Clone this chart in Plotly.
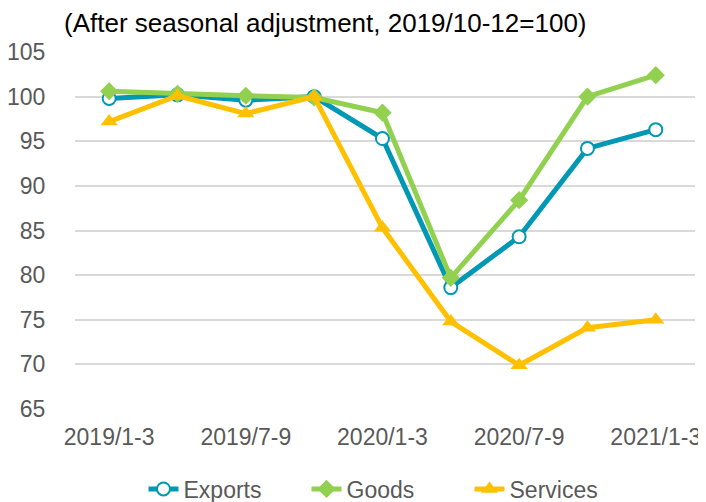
import plotly.graph_objects as go

categories = ["2019/1-3", "2019/4-6", "2019/7-9", "2019/10-12", "2020/1-3",
              "2020/4-6", "2020/7-9", "2020/10-12", "2021/1-3"]
exports = [99.8, 100.2, 99.6, 100.0, 95.3, 78.6, 84.3, 94.2, 96.3]
goods = [100.6, 100.3, 100.1, 99.9, 98.2, 79.7, 88.4, 100.0, 102.4]
services = [97.2, 100.1, 98.1, 100.0, 85.3, 74.8, 69.9, 74.1, 75.0]
shown_ticks = ["2019/1-3", "2019/7-9", "2020/1-3", "2020/7-9", "2021/1-3"]
y_ticks = [65, 70, 75, 80, 85, 90, 95, 100, 105]

FONT = "Liberation Sans, Arial, sans-serif"
W, H = 698, 494
ML, MR, MT, MB = 67, 11, 44, 93
PW, PH = W - ML - MR, H - MT - MB

fig = go.Figure()
fig.add_trace(go.Scatter(
    x=categories, y=exports, name="Exports", mode="lines+markers",
    line=dict(color="#0098B4", width=5),
    marker=dict(symbol="circle", size=13, color="white",
                line=dict(color="#0098B4", width=2))))
fig.add_trace(go.Scatter(
    x=categories, y=goods, name="Goods", mode="lines+markers",
    line=dict(color="#92D050", width=5),
    marker=dict(symbol="diamond", size=14, color="#92D050")))
fig.add_trace(go.Scatter(
    x=categories, y=services, name="Services", mode="lines+markers",
    line=dict(color="#FFC000", width=5),
    marker=dict(symbol="triangle-up", size=15, color="#FFC000")))

fig.update_layout(
    width=W, height=H,
    margin=dict(l=ML, r=MR, t=MT, b=MB, autoexpand=False),
    paper_bgcolor="white", plot_bgcolor="white",
    font=dict(family=FONT, size=23, color="#595959"),
    showlegend=True,
    legend=dict(orientation="h", xref="container", x=380 / W, xanchor="center",
                yref="container", y=1 - 481 / H, yanchor="middle",
                font=dict(size=23, color="#595959"),
                entrywidth=118, entrywidthmode="pixels",
                itemwidth=30, tracegroupgap=0, traceorder="normal"),
    annotations=[dict(text="(After seasonal adjustment, 2019/10-12=100)",
                      xref="paper", yref="paper",
                      x=(54 - ML) / PW, y=(H - MB - 15) / PH,
                      xanchor="left", yanchor="middle",
                      showarrow=False,
                      font=dict(size=26, color="#000000", family=FONT))],
)
fig.update_xaxes(type="category", categoryorder="array", categoryarray=categories,
                 range=[-0.5, 8.574],
                 tickmode="array", tickvals=shown_ticks, ticktext=shown_ticks,
                 showgrid=False, showline=False, zeroline=False, automargin=False,
                 ticks="outside", ticklen=7, tickcolor="rgba(0,0,0,0)",
                 tickfont=dict(size=23, color="#595959"))
fig.update_yaxes(range=[65, 105], tickmode="array", tickvals=y_ticks,
                 showgrid=True, gridcolor="#D9D9D9", gridwidth=2,
                 zeroline=False, showline=False, automargin=False,
                 ticks="outside", ticklen=24, tickcolor="rgba(0,0,0,0)",
                 tickfont=dict(size=23, color="#595959"))

fig.write_html("out.html")
